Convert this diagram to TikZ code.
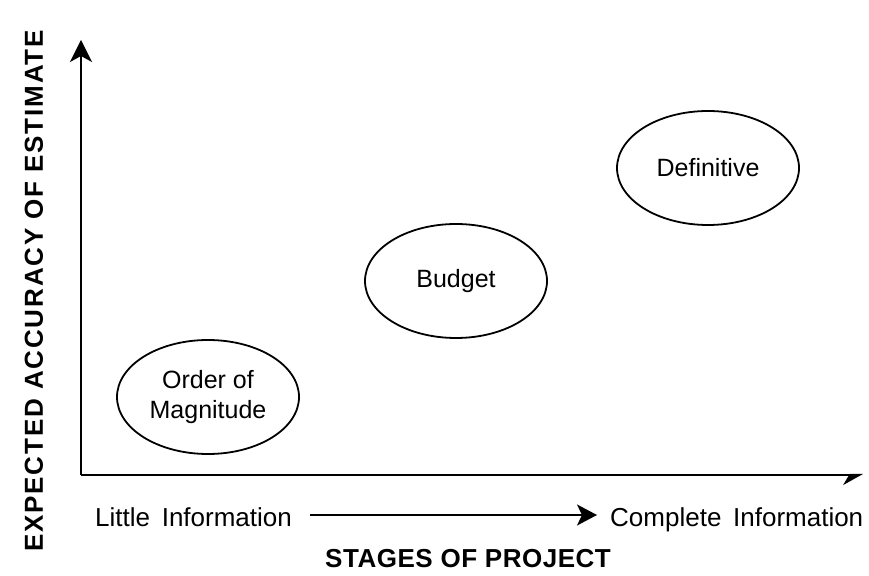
\documentclass[tikz,border=0pt]{standalone}
\usepackage{fontspec}
\setmainfont{Liberation Sans}
\usetikzlibrary{arrows.meta,shapes.geometric}

\tikzset{
  stage/.style={draw, ellipse, line width=1.8pt, minimum width=182pt,
    minimum height=114pt, inner sep=0pt, align=center,
    font=\fontsize{25}{30}\selectfont},
  info/.style={inner sep=0pt, font=\fontsize{26}{30}\selectfont},
  axislabel/.style={inner sep=0pt, font=\fontsize{26}{30}\selectfont\bfseries}
}

\begin{document}
\begin{tikzpicture}[x=1pt, y=1pt]
  % Fix the page to the size of the reference
  \useasboundingbox (0,0) rectangle (869,575);

  % Axes
  \coordinate (origin) at (81,100);
  \coordinate (ytop) at (81,535);
  \coordinate (xend) at (863,100);
  \draw[line width=2pt, -{Stealth[length=22pt,width=22pt,inset=6pt]}] (origin) -- (ytop);
  \draw[line width=2pt, -{Stealth[harpoon,swap,length=18pt,width=20pt]}] (origin) -- (xend);

  % The three estimates
  \node[stage] (order) at (208,178) {Order of\\Magnitude};
  \node[stage] (budget) at (456,294) {Budget};
  \node[stage] (definitive) at (708,407) {Definitive};

  % Information scale
  \node[info, anchor=base west] (little) at (95,48) {Little\hspace{0.45em}Information};
  \node[info, anchor=base west] (complete) at (610,48) {Complete\hspace{0.45em}Information};
  \draw[line width=1.8pt, -{Stealth[length=20pt,width=21pt,inset=5pt]},
    shorten <=18pt, shorten >=13pt] ([yshift=12pt]little.base east) -- ([yshift=12pt]complete.base west);

  % Axis titles
  \node[axislabel] (stages) at (468,16) {\addfontfeatures{LetterSpace=2}STAGES OF PROJECT};
  \node[axislabel, rotate=90] (accuracy) at (34,284) {\addfontfeatures{LetterSpace=7}EXPECTED ACCURACY OF ESTIMATE};
\end{tikzpicture}
\end{document}
